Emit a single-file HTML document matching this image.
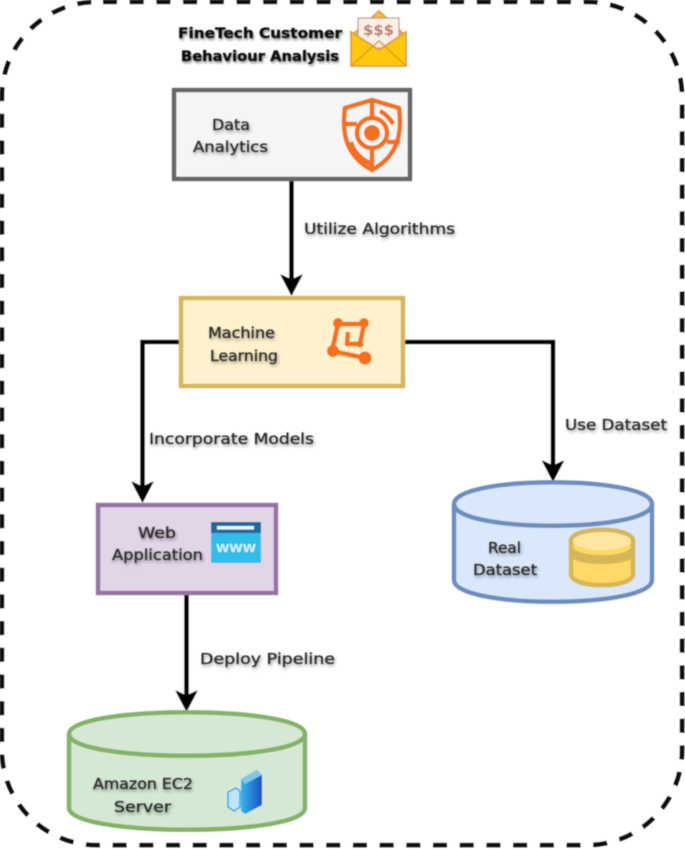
<!DOCTYPE html>
<html><head><meta charset="utf-8"><style>
html,body{margin:0;padding:0;background:#fff;width:685px;height:849px;overflow:hidden}
svg{display:block}
text{font-family:"DejaVu Sans","Liberation Sans",sans-serif;font-size:15px;fill:#333}
.d{fill:#2a2a2a;stroke:#2a2a2a;stroke-width:.3;filter:drop-shadow(1px 2px 1.5px rgba(0,0,0,.4))}
.b{font-weight:bold;fill:#111;stroke:#111;stroke-width:.3;font-size:14px;filter:drop-shadow(1px 2px 1.2px rgba(0,0,0,.45))}
</style></head><body>
<svg width="685" height="849" viewBox="0 0 685 849" xmlns="http://www.w3.org/2000/svg">
<defs>
<filter id="s" x="-5%" y="-5%" width="110%" height="110%"><feGaussianBlur stdDeviation="0.6"/></filter>
<linearGradient id="sv" x1="0" x2="1"><stop offset="0" stop-color="#36b5ee"/><stop offset="1" stop-color="#1f4fc0"/></linearGradient>
</defs>
<g filter="url(#s)">
<rect x="2" y="2" width="680" height="843" rx="95" ry="95" fill="#fff" stroke="#0a0a0a" stroke-width="4.6" stroke-dasharray="14 12.7" stroke-dashoffset="-6"/>

<!-- connectors -->
<g fill="none" stroke="#000" stroke-width="4.6">
<path d="M291.500 180V280"/>
<path d="M180 342H142.500V488"/>
<path d="M404 342H553V466"/>
<path d="M186.500 594V696"/>
</g>
<g fill="#000" stroke="#000" stroke-width="1" stroke-linejoin="round">
<path d="M291.500 295L281 275L291.500 280L302 275Z"/>
<path d="M142.500 502L132 482L142.500 487L153 482Z"/>
<path d="M553 481L542.500 461L553 466L563.500 461Z"/>
<path d="M186.500 711L176 691L186.500 696L197 691Z"/>
</g>

<!-- boxes -->
<rect x="174" y="90" width="236" height="89" fill="#f5f5f5" stroke="#666" stroke-width="4.500"/>
<rect x="181" y="298" width="222" height="88" fill="#fff2cc" stroke="#d6b656" stroke-width="4.500"/>
<rect x="98" y="505" width="178" height="88" fill="#e1d5e7" stroke="#9673a6" stroke-width="4.500"/>

<!-- Real dataset cylinder -->
<path d="M454 504C454 475 652 475 652 504V580C652 609 454 609 454 580Z" fill="#dae8fc" stroke="#6c8ebf" stroke-width="4.500"/>
<path d="M454 504C454 533 652 533 652 504" fill="none" stroke="#6c8ebf" stroke-width="4.500"/>
<!-- EC2 cylinder -->
<path d="M69 734C69 705 305 705 305 734V808C305 837 69 837 69 808Z" fill="#d5e8d4" stroke="#82b366" stroke-width="4.500"/>
<path d="M69 734C69 763 305 763 305 734" fill="none" stroke="#82b366" stroke-width="4.500"/>

<!-- envelope icon -->
<path d="M351 36L379 11L406 36V66H351Z" fill="#f5b93a" stroke="#e0a43a" stroke-width="2"/>
<rect x="358" y="18" width="41" height="30" fill="#fbeee6" stroke="#b89a8a" stroke-width="1.200"/>
<path d="M351 32V66H406V32L379 50Z" fill="#fec811" stroke="#e0a43a" stroke-width="2"/>
<path d="M351 66L379 41L406 66" fill="none" stroke="#d9a01c" stroke-width="1.500"/>
<text x="363" y="35" style="font-size:14px;font-weight:bold;fill:#b5806a" textLength="31" lengthAdjust="spacingAndGlyphs">$$$</text>

<!-- shield icon -->
<g fill="none" stroke="#f5701c" stroke-width="4.500">
<path d="M372 100L345 108C342 130 344 155 372 170C400 155 402 130 399 108Z"/>
<circle cx="372" cy="133" r="15"/>
<path d="M372 100V116M372 150V170M345 124H357M387 142H400"/>
<path d="M351 142C354 153 362 160 372 164"/>
<path d="M393 124C390 118 384 113 380 111"/>
</g>
<circle cx="372" cy="133" r="8" fill="#f5701c"/>

<!-- ML icon -->
<g fill="none" stroke="#f5701c" stroke-width="4.500" stroke-linejoin="round">
<path d="M338 324L364 324L360 344L347 344L348 332"/>
<path d="M338 324L332 351L365 358"/>
</g>
<g fill="#f5701c">
<circle cx="338" cy="323" r="5"/><circle cx="364" cy="323" r="5"/>
<circle cx="333" cy="351" r="6"/><circle cx="365" cy="358" r="6.500"/>
<circle cx="360" cy="344" r="3.500"/>
</g>

<!-- WWW icon -->
<rect x="211" y="522" width="50" height="41" fill="#33bde9"/>
<rect x="211" y="522" width="50" height="11" fill="#1e6b9a"/>
<rect x="217" y="526" width="37" height="3.500" fill="#e9f6fb"/>
<text x="216" y="552" style="font-size:11px;font-weight:bold;fill:#d9f2fb" textLength="40" lengthAdjust="spacingAndGlyphs">WWW</text>

<!-- database icon -->
<path d="M571 541C571 526 633 526 633 541V574C633 589 571 589 571 574Z" fill="#ffd966" stroke="#d6b656" stroke-width="4.500"/>
<ellipse cx="602" cy="541" rx="29" ry="9" fill="#ffe6a0"/>
<path d="M572 547C580 558 624 558 632 547V558C624 566 580 566 572 558Z" fill="#d6b656"/>

<!-- server icon -->
<path d="M241 779L257 770L262 775V805L245 814L241 811Z" fill="url(#sv)"/>
<path d="M241 779L257 770L262 775L245 784Z" fill="#7cc9ee"/>
<path d="M228 792L236 788L240 791V807L234 811L228 807Z" fill="#bfe6f6" stroke="#36a5e6" stroke-width="1.500"/>
</g>

<!-- labels -->
<g filter="url(#s)">
<text class="b" x="178" y="38" textLength="164" lengthAdjust="spacingAndGlyphs">FineTech Customer</text>
<text class="b" x="181" y="61" textLength="158" lengthAdjust="spacingAndGlyphs">Behaviour Analysis</text>
<text class="d" x="212" y="130" textLength="38" lengthAdjust="spacingAndGlyphs">Data</text>
<text class="d" x="193" y="152" textLength="75" lengthAdjust="spacingAndGlyphs">Analytics</text>
<text class="d" x="304" y="234" textLength="151" lengthAdjust="spacingAndGlyphs">Utilize Algorithms</text>
<text class="d" x="208" y="338" textLength="67" lengthAdjust="spacingAndGlyphs">Machine</text>
<text class="d" x="210" y="361" textLength="68" lengthAdjust="spacingAndGlyphs">Learning</text>
<text class="d" x="149" y="444" textLength="165" lengthAdjust="spacingAndGlyphs">Incorporate Models</text>
<text class="d" x="565" y="430" textLength="102" lengthAdjust="spacingAndGlyphs">Use Dataset</text>
<text class="d" x="138" y="538" textLength="38" lengthAdjust="spacingAndGlyphs">Web</text>
<text class="d" x="112" y="560" textLength="91" lengthAdjust="spacingAndGlyphs">Application</text>
<text class="d" x="488" y="553" textLength="33" lengthAdjust="spacingAndGlyphs">Real</text>
<text class="d" x="473" y="575" textLength="64" lengthAdjust="spacingAndGlyphs">Dataset</text>
<text class="d" x="200" y="664" textLength="135" lengthAdjust="spacingAndGlyphs">Deploy Pipeline</text>
<text class="d" x="93" y="789" textLength="100" lengthAdjust="spacingAndGlyphs">Amazon EC2</text>
<text class="d" x="114" y="812" textLength="57" lengthAdjust="spacingAndGlyphs">Server</text>
</g>
</svg>
</body></html>
